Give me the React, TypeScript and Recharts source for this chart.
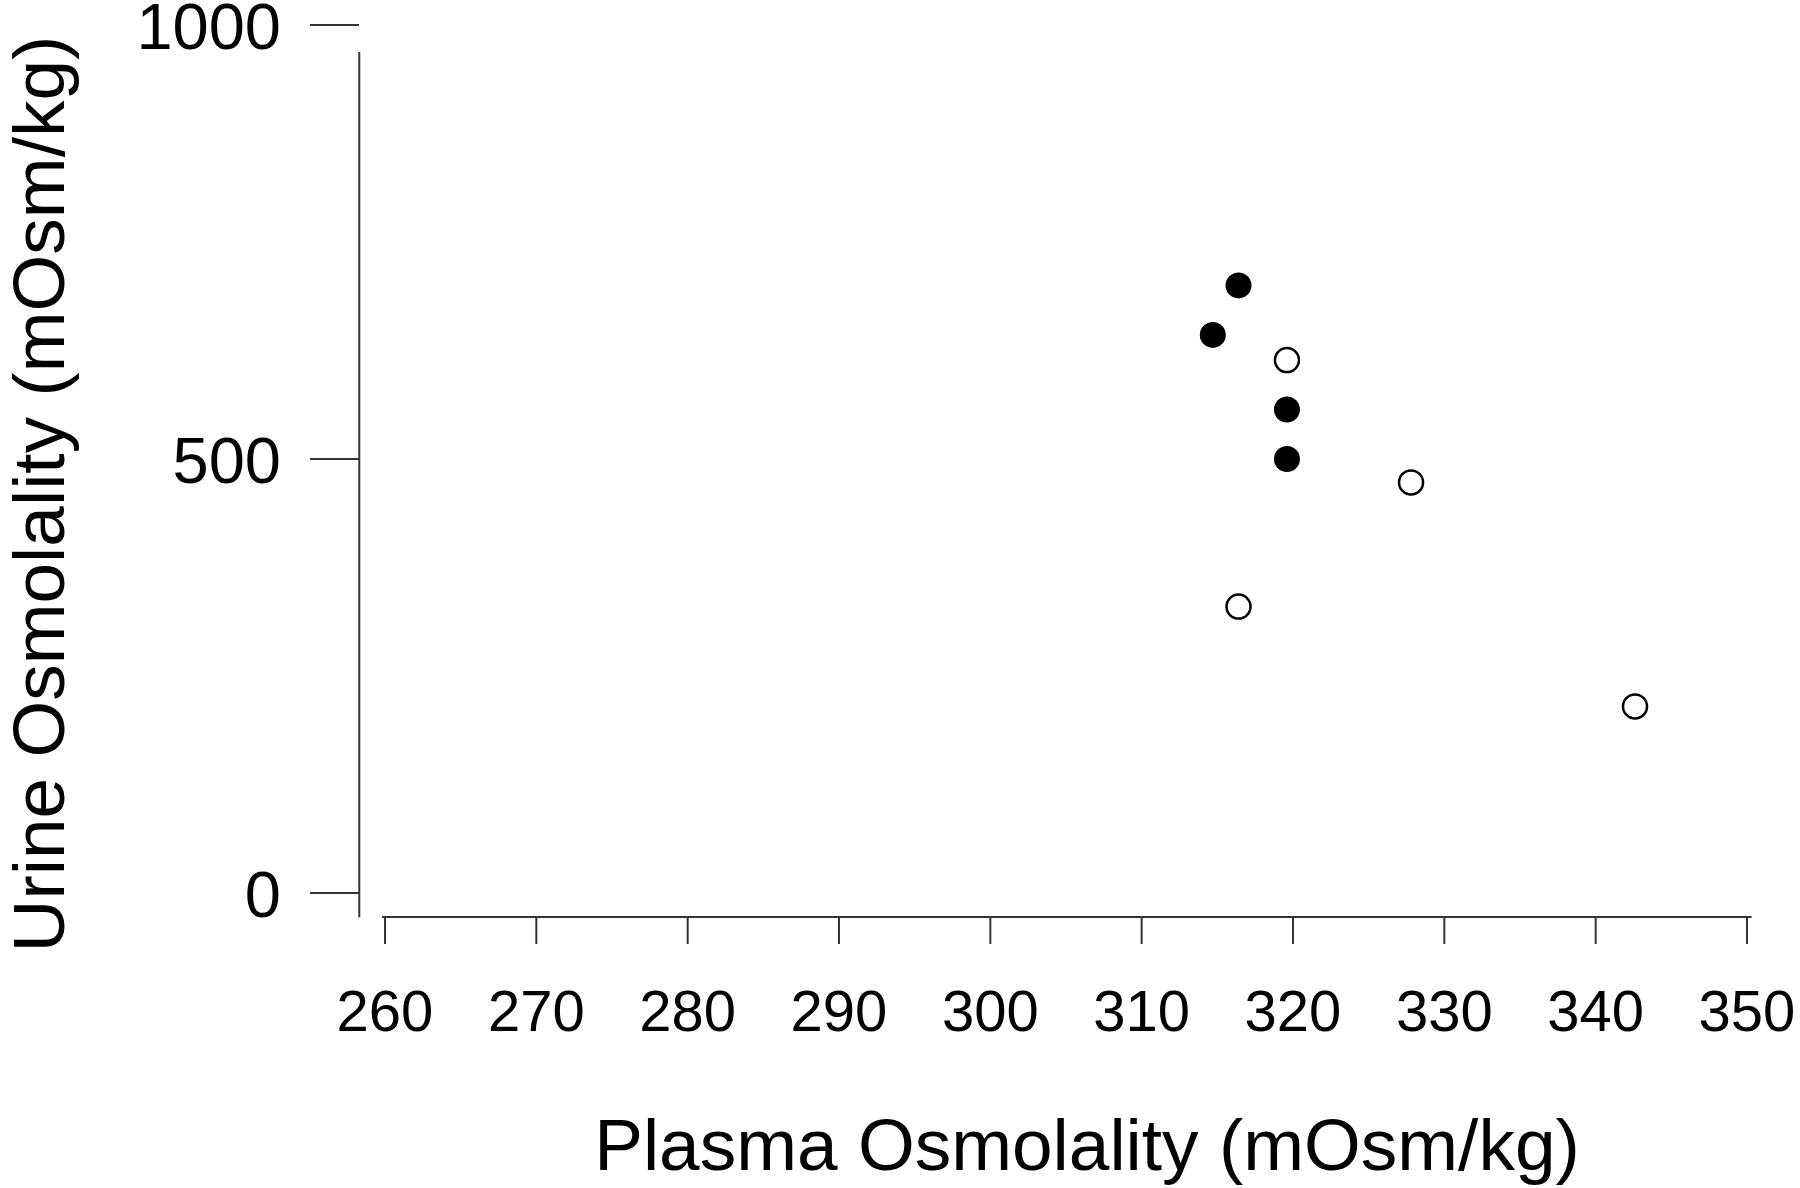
import { ScatterChart, Scatter, XAxis, YAxis, ReferenceLine } from "recharts";

const xTicks = [260, 270, 280, 290, 300, 310, 320, 330, 340, 350];
const yTicks = [0, 500, 1000];

const filledX = [316.4, 314.7, 319.6, 319.6];
const filledY = [700, 643, 557, 500];
const openX = [319.6, 327.8, 316.4, 342.6];
const openY = [614, 473, 330, 215];

const filled = filledX.map((x, i) => ({ x, y: filledY[i] }));
const open = openX.map((x, i) => ({ x, y: openY[i] }));

const font = "Arial, 'Liberation Sans', sans-serif";

const XTick = (props: any) => (
  <g>
    <line x1={props.x} x2={props.x} y1={918} y2={944} stroke="#333" strokeWidth={2} />
    <text x={props.x} y={1031} textAnchor="middle" fontSize={58} fontFamily={font} fill="#000">
      {props.payload.value}
    </text>
  </g>
);

const YTick = (props: any) => (
  <g>
    <line x1={310} x2={359} y1={props.y} y2={props.y} stroke="#333" strokeWidth={2} />
    <text x={281} y={props.y + 24} textAnchor="end" fontSize={65} fontFamily={font} fill="#000">
      {props.payload.value}
    </text>
  </g>
);

export default function App() {
  return (
    <div style={{ position: "absolute", left: 0, top: 0, background: "#fff" }}>
      <ScatterChart width={1800} height={1188} margin={{ top: 25, right: 53, bottom: 294, left: 0 }}>
        <XAxis type="number" dataKey="x" domain={[260, 350]} ticks={xTicks} axisLine={false} tickLine={false} tick={<XTick />} height={1} />
        <YAxis type="number" dataKey="y" domain={[0, 1000]} ticks={yTicks} axisLine={false} tickLine={false} tick={<YTick />} width={385} />
        <ReferenceLine ifOverflow="visible" segment={[{ x: 258.3, y: -28 }, { x: 258.3, y: 969 }]} stroke="#333" strokeWidth={2} />
        <ReferenceLine ifOverflow="visible" segment={[{ x: 259.8, y: -27.6 }, { x: 350.3, y: -27.6 }]} stroke="#333" strokeWidth={2} />
        <Scatter data={filled} fill="#000" isAnimationActive={false}
          shape={(p: any) => <circle cx={p.cx} cy={p.cy} r={13} fill="#000" />} />
        <Scatter data={open} fill="#fff" isAnimationActive={false}
          shape={(p: any) => <circle cx={p.cx} cy={p.cy} r={12} fill="#fff" stroke="#000" strokeWidth={2.5} />} />
      </ScatterChart>
      <div style={{ position: "absolute", left: 0, top: 0, width: 1800, height: 1188, pointerEvents: "none" }}>
        <svg width={1800} height={1188}>
          <text x={1087} y={1170} textAnchor="middle" fontSize={73} fontFamily={font}>Plasma Osmolality (mOsm/kg)</text>
          <text x={64} y={494} textAnchor="middle" fontSize={73} fontFamily={font} transform="rotate(-90 64 494)">Urine Osmolality (mOsm/kg)</text>
        </svg>
      </div>
    </div>
  );
}
